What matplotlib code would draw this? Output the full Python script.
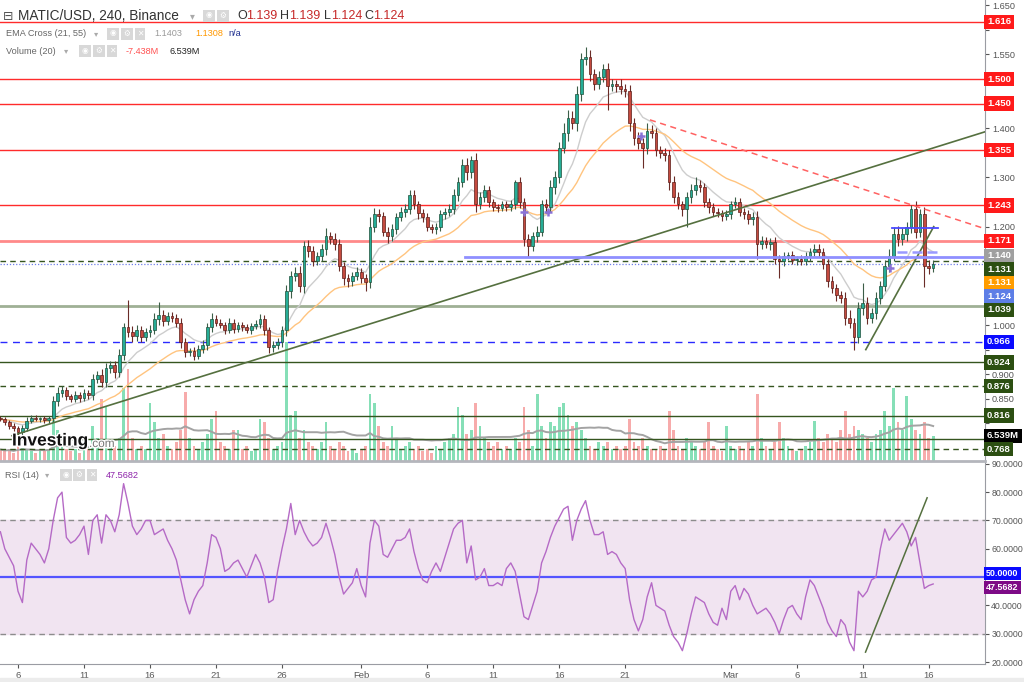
import numpy as np
import pandas as pd
import matplotlib
matplotlib.use('Agg')
import matplotlib.pyplot as plt
import matplotlib.dates as mdates
import matplotlib.patheffects as pe

plt.rcParams['font.family'] = ['Liberation Sans', 'DejaVu Sans']

# ---- data: MATIC/USD candles (8h steps) ----
start = '2023-01-04 16:00'
first_open = 0.812
closes = [
    0.808, 0.802, 0.795, 0.790, 0.782, 0.790, 0.805, 0.812, 0.808, 0.810,
    0.806, 0.810, 0.845, 0.862, 0.868, 0.855, 0.850, 0.858, 0.852, 0.862,
    0.858, 0.890, 0.898, 0.885, 0.912, 0.918, 0.905, 0.940, 0.995, 0.985,
    0.978, 0.990, 0.975, 0.985, 0.990, 1.012, 1.020, 1.008, 1.018, 1.015,
    1.005, 0.965, 0.945, 0.948, 0.938, 0.952, 0.960, 0.995, 1.012, 1.005,
    1.000, 0.990, 1.005, 0.992, 1.000, 0.995, 0.990, 0.998, 1.002, 1.012,
    0.990, 0.955, 0.960, 0.965, 0.990, 1.070, 1.100, 1.105, 1.080, 1.160,
    1.150, 1.130, 1.140, 1.155, 1.180, 1.175, 1.165, 1.120, 1.095, 1.090,
    1.100, 1.108, 1.095, 1.088, 1.200, 1.225, 1.222, 1.190, 1.180, 1.195,
    1.220, 1.230, 1.235, 1.265, 1.245, 1.228, 1.220, 1.200, 1.195, 1.200,
    1.225, 1.230, 1.235, 1.265, 1.290, 1.325, 1.310, 1.335, 1.245, 1.260,
    1.275, 1.250, 1.240, 1.238, 1.245, 1.240, 1.245, 1.290, 1.250, 1.175,
    1.160, 1.180, 1.190, 1.245, 1.240, 1.280, 1.300, 1.360, 1.390, 1.420,
    1.410, 1.470, 1.540, 1.545, 1.510, 1.490, 1.505, 1.520, 1.485, 1.490,
    1.485, 1.480, 1.475, 1.410, 1.380, 1.370, 1.360, 1.395, 1.390, 1.355,
    1.350, 1.345, 1.290, 1.260, 1.245, 1.235, 1.260, 1.275, 1.285, 1.280,
    1.250, 1.240, 1.230, 1.228, 1.222, 1.225, 1.245, 1.250, 1.230, 1.225,
    1.215, 1.220, 1.165, 1.170, 1.165, 1.168, 1.135, 1.130, 1.140, 1.142,
    1.132, 1.135, 1.130, 1.140, 1.148, 1.155, 1.148, 1.125, 1.090, 1.075,
    1.060, 1.055, 1.015, 1.005, 0.975, 1.035, 1.045, 1.015, 1.025, 1.055,
    1.080, 1.120, 1.140, 1.185, 1.175, 1.185, 1.200, 1.235, 1.190, 1.225,
    1.120, 1.115, 1.124,
]
up_wick = [
    .004, .005, .004, .006, .005, .006, .008, .006, .005, .004,
    .005, .006, .010, .012, .008, .006, .005, .007, .006, .008,
    .006, .010, .008, .012, .010, .009, .008, .012, .010, .055,
    .012, .010, .008, .009, .010, .012, .027, .010, .008, .009,
    .008, .010, .008, .006, .007, .008, .009, .010, .012, .009,
    .008, .007, .009, .008, .006, .007, .008, .006, .009, .010,
    .008, .006, .007, .008, .009, .012, .010, .012, .015, .010,
    .012, .010, .008, .010, .017, .010, .012, .010, .008, .009,
    .008, .010, .007, .008, .020, .012, .010, .008, .009, .010,
    .008, .009, .010, .009, .010, .008, .007, .008, .006, .008,
    .009, .008, .010, .012, .010, .012, .014, .008, .015, .010,
    .009, .008, .007, .006, .008, .007, .009, .005, .010, .008,
    .009, .010, .012, .010, .012, .015, .014, .012, .020, .018,
    .015, .016, .012, .020, .014, .010, .012, .010, .012, .010,
    .009, .015, .010, .012, .010, .012, .010, .015, .012, .010,
    .008, .009, .010, .012, .010, .008, .010, .012, .015, .010,
    .009, .008, .007, .008, .006, .009, .008, .010, .008, .007,
    .008, .009, .012, .010, .008, .009, .010, .008, .009, .007,
    .008, .006, .007, .009, .008, .010, .009, .008, .010, .009,
    .008, .010, .012, .015, .010, .012, .040, .012, .010, .012,
    .010, .012, .015, .014, .016, .012, .010, .008, .018, .010,
    .015, .012, .008,
]
dn_wick = [
    .004, .005, .006, .005, .007, .005, .006, .005, .004, .006,
    .005, .006, .008, .010, .009, .008, .007, .006, .008, .007,
    .009, .010, .008, .012, .010, .009, .012, .010, .012, .010,
    .012, .010, .009, .008, .010, .009, .012, .010, .008, .009,
    .010, .012, .010, .008, .009, .007, .008, .010, .009, .008,
    .007, .008, .006, .009, .007, .008, .006, .008, .007, .009,
    .010, .012, .009, .008, .010, .012, .015, .010, .012, .014,
    .012, .010, .009, .010, .012, .010, .012, .010, .014, .012,
    .010, .009, .010, .018, .012, .010, .012, .010, .014, .010,
    .009, .008, .010, .009, .010, .012, .010, .009, .008, .010,
    .009, .010, .008, .010, .012, .010, .015, .012, .015, .010,
    .009, .010, .008, .009, .007, .008, .009, .010, .012, .015,
    .022, .010, .012, .010, .012, .010, .014, .012, .010, .015,
    .012, .015, .014, .012, .015, .012, .010, .012, .048, .010,
    .012, .010, .012, .015, .014, .012, .040, .012, .010, .012,
    .010, .012, .015, .012, .010, .014, .035, .012, .010, .009,
    .010, .012, .009, .008, .010, .009, .010, .008, .009, .010,
    .010, .012, .030, .010, .009, .012, .010, .035, .010, .008,
    .009, .010, .008, .009, .010, .008, .010, .012, .012, .010,
    .012, .010, .015, .012, .025, .012, .014, .012, .010, .012,
    .012, .010, .012, .010, .014, .012, .015, .012, .014, .012,
    .043, .012, .008,
]
volume_m = [
    3, 2.5, 3, 2, 4, 3.5, 3, 2.5, 2, 3,
    2.5, 3, 13, 8, 4, 3, 2.5, 3, 2, 3.5,
    3, 9, 6, 16, 14, 5, 4, 6, 19, 24,
    6, 3, 4, 3, 15, 10, 6, 7, 4, 3,
    5, 8, 18, 6, 4, 3, 5, 7, 11, 13,
    5, 4, 3, 8, 8, 3, 4, 2.5, 3, 11,
    10, 6, 3, 4, 5, 31, 12, 13, 6, 8,
    5, 4, 3, 5, 10, 4, 3, 5, 4, 2.5,
    3, 2, 3, 4, 17.5, 15, 9, 5, 4, 9,
    6, 3, 4, 5, 3, 4, 2.5, 3, 2, 4,
    3, 5, 6, 7, 14, 12, 7, 8, 15, 9,
    6, 5, 4, 5, 3, 4, 3, 6, 5, 14,
    8, 4, 17.5, 9, 6, 10, 9, 14, 15, 12,
    9, 10, 8, 6, 4, 3, 5, 4, 5, 3,
    4, 3, 4, 11, 5, 4, 6, 4, 3, 3,
    4, 3, 13, 8, 4, 3, 6, 5, 4, 3,
    5, 10, 4, 3, 2.5, 9, 4, 3, 4, 3,
    5, 4, 17.5, 6, 4, 3, 5, 10, 6, 4,
    3, 2.5, 3, 4, 5, 10.5, 6, 5, 7, 6,
    5, 8, 13, 7, 9, 8, 7, 6, 5, 7,
    8, 13, 9, 19, 10, 8, 17, 11, 8, 7,
    10, 6, 6.539,
]
rsi = [
    66, 60, 57, 54, 45, 41, 56, 62, 60, 58,
    55, 60, 70, 78, 80, 64, 62, 63, 65, 68,
    58, 70, 72, 62, 72, 70, 66, 72, 83, 76,
    68, 65, 67, 70, 70, 65, 66, 67, 63, 60,
    56, 49, 42, 37, 42, 45, 47, 55, 65, 64,
    60, 52, 53, 55, 56, 53, 50, 54, 58, 55,
    50, 41, 42, 52, 60, 67, 76, 65, 70, 66,
    63, 61, 62, 64, 69, 64, 58, 50, 44, 46,
    48, 53, 47, 43, 62, 70, 68, 58, 57, 60,
    63, 63, 64, 67, 59, 53, 49, 48, 52, 55,
    52, 57, 62, 67, 69, 70, 55, 61, 49, 50,
    53, 47, 47, 48, 47, 53, 55, 52, 44, 36,
    35, 40, 45, 55, 59, 64, 68, 71, 74, 75,
    63, 70, 74, 77, 70, 65, 65, 66, 58, 59,
    58, 55, 53, 42, 35, 31, 35, 43, 48, 40,
    39, 38, 33, 29, 27, 24, 30, 37, 43, 42,
    41, 37, 34, 33, 39, 35, 45, 47, 42, 46,
    44, 40, 37, 38, 39, 37, 34, 30, 35, 39,
    40, 37, 35, 43, 49, 47, 43, 39, 34, 31,
    29, 35, 33, 27, 24, 45, 43, 45, 49, 50,
    60, 67, 63, 65, 67, 69, 66, 61, 64, 55,
    46, 47, 47.5682,
]

red_levels = [1.616, 1.500, 1.450, 1.355, 1.243, 1.171]
green_solid = [0.924, 0.816, 0.768]
green_dashed = [1.131, 0.876, 0.748]
olive_level = 1.039
blue_dashed_level = 0.966
last_price = 1.124
ema_fast_last, ema_slow_last = 1.1403, 1.1308

# drawn trend lines: (time, price) endpoints
long_trend = [('2023-01-05 13:00', 0.775), ('2023-03-21 06:00', 1.401)]
red_trend = [('2023-02-22 21:00', 1.417), ('2023-03-21 06:00', 1.187)]
short_trend = [('2023-03-11 05:30', 0.950), ('2023-03-16 09:00', 1.200)]
blue_long = [('2023-02-08 21:00', 1.138), ('2023-03-21 06:00', 1.138)]
blue_top = [('2023-03-13 05:00', 1.197), ('2023-03-16 17:00', 1.197)]
blue_mid = [('2023-03-13 14:00', 1.149), ('2023-03-16 17:00', 1.149)]
rsi_trend = [('2023-03-11 05:00', 23.5), ('2023-03-15 21:00', 78.0)]
cross_marks = [('2023-02-13 08:00', 1.230), ('2023-02-15 04:00', 1.230),
               ('2023-02-22 04:00', 1.384), ('2023-03-13 01:00', 1.116)]

tick_dates = ['2023-01-06', '2023-01-11', '2023-01-16', '2023-01-21', '2023-01-26',
              '2023-02-01', '2023-02-06', '2023-02-11', '2023-02-16', '2023-02-21',
              '2023-03-01', '2023-03-06', '2023-03-11', '2023-03-16']
tick_labels = ['6', '11', '16', '21', '26', 'Feb', '6', '11', '16', '21',
               'Mar', '6', '11', '16']
price_ticks = [0.80, 0.85, 0.90, 0.95, 1.00, 1.05, 1.10, 1.15, 1.20, 1.25,
               1.30, 1.35, 1.40, 1.45, 1.50, 1.55, 1.60, 1.65]

# ---- derived series ----
t = pd.date_range(start, periods=len(closes), freq='8h')
x = mdates.date2num(t)
c = np.array(closes)
o = np.array([first_open] + closes[:-1])
hi = np.maximum(o, c) + np.array(up_wick)
lo = np.minimum(o, c) - np.array(dn_wick)
up = c >= o
ema_fast = pd.Series(c).ewm(span=10.5, adjust=False).mean()
ema_slow = pd.Series(c).ewm(span=27.5, adjust=False).mean()
vol_ma = pd.Series(volume_m).rolling(20, min_periods=1).mean()


def dn(s):
    return mdates.date2num(pd.Timestamp(s))


W, H = 1024, 682
fig = plt.figure(figsize=(W / 100, H / 100), dpi=100)
base = dn('2023-01-06')
xlim = (base - 1.3636, base + 73.26)

ax_v = fig.add_axes([0, 221 / H, 985 / W, 461 / H])
ax = fig.add_axes([0, 221 / H, 985 / W, 461 / H], sharex=ax_v)
ax_r = fig.add_axes([0, 18 / H, 985 / W, 203 / H])
ax.set_zorder(ax_v.get_zorder() + 1)
ax.patch.set_visible(False)

# volume
ax_v.bar(x, volume_m, width=0.22, color=np.where(up, '#86dfb7', '#f7abab'), zorder=1)
ax_v.plot(x, vol_ma, color='#a3a3a3', lw=1.4, zorder=2)
ax_v.set_ylim(0, 119.7)
ax_v.axis('off')

# horizontal levels
for lv in red_levels:
    if lv == 1.171:
        ax.axhline(lv, color='#ff8a8a', lw=2.0, zorder=2)
    else:
        ax.axhline(lv, color='#ff2b2b', lw=1.0, zorder=2)
for lv in green_solid:
    ax.axhline(lv, color='#35551f', lw=1.0, zorder=2)
for lv in green_dashed:
    ax.axhline(lv, color='#35551f', lw=1.0, ls=(0, (4, 3)), zorder=2)
ax.axhline(olive_level, color='#9fb095', lw=2.0, zorder=2)
ax.axhline(blue_dashed_level, color='#2a2aff', lw=1.0, ls=(0, (5, 4)), zorder=2)
ax.axhline(last_price, color='#6d7fe8', lw=0.9, ls=(0, (1, 1.5)), zorder=2)

# EMAs
ax.plot(x, ema_fast, color='#cdcdcd', lw=1.0, zorder=2.5)
ax.plot(x, ema_slow, color='#ffc47f', lw=1.0, zorder=2.5)

# candles
wick_col = np.where(up, '#3c5e48', '#6a2c27')
ax.vlines(x, lo, hi, colors=wick_col, lw=0.8, zorder=3)
body_h = np.maximum(np.abs(c - o), 0.002)
ax.bar(x, body_h, bottom=np.minimum(o, c), width=0.2,
       color=np.where(up, '#26ad96', '#c44a3f'),
       edgecolor=np.where(up, '#1f4f3a', '#5a1c18'), lw=0.5, zorder=4)


def seg(ax_, pts, **kw):
    ax_.plot([dn(pts[0][0]), dn(pts[1][0])], [pts[0][1], pts[1][1]], **kw)


seg(ax, long_trend, color='#55703f', lw=1.2, zorder=5)
seg(ax, red_trend, color='#ff6262', lw=1.1, ls=(0, (4, 3)), zorder=5)
seg(ax, short_trend, color='#55703f', lw=1.2, zorder=5)
seg(ax, blue_long, color='#8f8fff', lw=2.0, zorder=5)
seg(ax, blue_top, color='#4a4aff', lw=1.3, zorder=5)
seg(ax, blue_mid, color='#9a9aff', lw=1.8, ls=(0, (4, 2)), zorder=5)
for d_, p_ in cross_marks:
    ax.plot(dn(d_), p_, marker='+', ms=6, mew=1.8, color='#8a72d6', zorder=6)

ax.set_xlim(*xlim)
ax.set_ylim(0.7236, 1.6606)
for s in ['top', 'left']:
    ax.spines[s].set_visible(False)
ax.spines['right'].set_color('#9a9ca3')
ax.spines['bottom'].set_color('#b4b6bc')
ax.spines['bottom'].set_linewidth(2)
ax.tick_params(axis='x', bottom=False, labelbottom=False)

# RSI
ax_r.axhspan(30, 70, color='#f1e4f1', zorder=0)
ax_r.axhline(70, color='#8c8c8c', lw=1, ls=(0, (4, 3)))
ax_r.axhline(30, color='#8c8c8c', lw=1, ls=(0, (4, 3)))
ax_r.axhline(50, color='#5454ff', lw=1.6)
ax_r.plot(x, rsi, color='#b56ac6', lw=1.0, zorder=3)
seg(ax_r, rsi_trend, color='#55703f', lw=1.1, zorder=4)
ax_r.set_xlim(*xlim)
ax_r.set_ylim(19.3, 91.0)
ax_r.yaxis.tick_right()
ax_r.set_yticks(range(20, 91, 10))
ax_r.set_yticklabels(['%.4f' % v for v in range(20, 91, 10)])
ax_r.tick_params(axis='y', labelsize=6.3, colors='#555555', length=3, pad=1.5)
ax_r.set_xticks([dn(d) for d in tick_dates])
ax_r.set_xticklabels(tick_labels)
ax_r.tick_params(axis='x', labelsize=6.8, colors='#555555', length=3, pad=2)
for s in ['top', 'left']:
    ax_r.spines[s].set_visible(False)
ax_r.spines['right'].set_color('#9a9ca3')
ax_r.spines['bottom'].set_color('#9a9ca3')

fig.patches.append(plt.Rectangle((0, 0), 1, 4 / H, transform=fig.transFigure,
                                 color='#ececec', zorder=0))


# ---- right-hand value tags ----
def tag_y(axis, val):
    return H - axis.transData.transform((xlim[0], val))[1]


tags = [(tag_y(ax, v), '%.3f' % v, '#ff1a1a') for v in red_levels]
tags += [(tag_y(ax, ema_fast_last), '%.3f' % ema_fast_last, '#a0a0a0'),
         (tag_y(ax, 1.131), '1.131', '#2c4f12'),
         (tag_y(ax, ema_slow_last), '%.3f' % ema_slow_last, '#ff9d00'),
         (tag_y(ax, last_price), '%.3f' % last_price, '#5d7ee6'),
         (tag_y(ax, olive_level), '%.3f' % olive_level, '#2c4f12'),
         (tag_y(ax, blue_dashed_level), '%.3f' % blue_dashed_level, '#0a0aff'),
         (tag_y(ax, 0.924), '0.924', '#2c4f12'),
         (tag_y(ax, 0.876), '0.876', '#2c4f12'),
         (tag_y(ax, 0.816), '0.816', '#2c4f12'),
         (tag_y(ax_v, volume_m[-1]), '%.3fM' % volume_m[-1], '#000000'),
         (tag_y(ax, 0.768), '0.768', '#2c4f12')]
tags.sort(key=lambda r: r[0])
placed = []
prev = -100
for yy, txt, col in tags:
    yy = max(yy, prev + 13.5)
    prev = yy
    placed.append(yy)
    fig.text(987 / W, 1 - yy / H, txt, ha='left', va='center', fontsize=6.8,
             fontweight='bold', color='white', zorder=10,
             bbox=dict(boxstyle='square,pad=0.28', fc=col, ec='none'))

# price scale: labels hidden where a tag sits on top of them
shown = []
for v in price_ticks:
    yy = tag_y(ax, v)
    shown.append('' if min(abs(yy - p) for p in placed) < 11 else '%.3f' % v)
ax.yaxis.tick_right()
ax.set_yticks(price_ticks)
ax.set_yticklabels(shown)
ax.tick_params(axis='y', labelsize=6.6, colors='#555555', length=3, pad=2)

y50 = tag_y(ax_r, 50)
y_last = tag_y(ax_r, rsi[-1])
mid = (y50 + y_last) / 2
for yy, txt, col in [(mid - 7, '50.0000', '#0a0aff'), (mid + 7, '%.4f' % rsi[-1], '#7d0a86')]:
    fig.text(986 / W, 1 - yy / H, txt, ha='left', va='center', fontsize=6.5,
             fontweight='bold', color='white', zorder=10,
             bbox=dict(boxstyle='square,pad=0.25', fc=col, ec='none'))
ax_r.set_yticklabels(['' if min(abs(tag_y(ax_r, v) - (mid - 7)), abs(tag_y(ax_r, v) - (mid + 7))) < 10
                      else '%.4f' % v for v in range(20, 91, 10)])


# ---- legend header ----
def ftext(px_, py_, s, **kw):
    kw.setdefault('va', 'center')
    kw.setdefault('ha', 'left')
    return fig.text(px_ / W, 1 - py_ / H, s, **kw)


def icons(xs, py_, syms):
    for xx, sym in zip(xs, syms):
        ftext(xx, py_, sym, ha='center', fontsize=5.5, color='white',
              bbox=dict(boxstyle='square,pad=0.3', fc='#d8d8d8', ec='none'))


ftext(3, 16, '\u229f', fontsize=9, color='#555555', family='DejaVu Sans')
ftext(18, 16, 'MATIC/USD, 240, Binance', fontsize=9.8, color='#333333')
ftext(190, 16, '\u25be', fontsize=7, color='#aaaaaa', family='DejaVu Sans')
icons([209, 223], 16, ['\u25c9', '\u2699'])
ohlc = [(237, 'O', '#333333'), (246, '1.139', '#c62828'), (280, 'H', '#333333'),
        (289, '1.139', '#c62828'), (324, 'L', '#333333'), (331, '1.124', '#c62828'),
        (364, 'C', '#333333'), (373, '1.124', '#c62828')]
for xx, s, col in ohlc:
    ftext(xx, 16, s, fontsize=9, color=col)

ftext(6, 34, 'EMA Cross (21, 55)', fontsize=6.6, color='#666666')
ftext(94, 34, '\u25be', fontsize=6, color='#aaaaaa', family='DejaVu Sans')
icons([113, 127, 140], 34, ['\u25c9', '\u2699', '\u2715'])
ftext(154, 34, '%.4f' % ema_fast_last, fontsize=6.6, color='#9a9a9a')
ftext(195, 34, '%.4f' % ema_slow_last, fontsize=6.6, color='#ff9800')
ftext(228, 34, 'n/a', fontsize=6.6, color='#1f2f8f')

ftext(6, 51, 'Volume (20)', fontsize=6.6, color='#666666')
ftext(64, 51, '\u25be', fontsize=6, color='#aaaaaa', family='DejaVu Sans')
icons([85, 99, 112], 51, ['\u25c9', '\u2699', '\u2715'])
ftext(126, 51, '-7.438M', fontsize=6.6, color='#ff5252')
ftext(170, 51, '%.3fM' % volume_m[-1], fontsize=6.6, color='#222222')

ftext(5, 475, 'RSI (14)', fontsize=6.6, color='#666666')
ftext(45, 475, '\u25be', fontsize=6, color='#aaaaaa', family='DejaVu Sans')
icons([66, 79, 92], 475, ['\u25c9', '\u2699', '\u2715'])
ftext(106, 475, '%.4f' % rsi[-1], fontsize=6.6, color='#8e24aa')

# watermark
ftext(12, 441, 'Investing', fontsize=12.5, fontweight='bold', color='#111111',
      path_effects=[pe.withStroke(linewidth=2, foreground='white')])
ftext(89, 444, '.com', fontsize=8.5, color='#777777',
      path_effects=[pe.withStroke(linewidth=2, foreground='white')])

fig.savefig('out.png', dpi=100)
